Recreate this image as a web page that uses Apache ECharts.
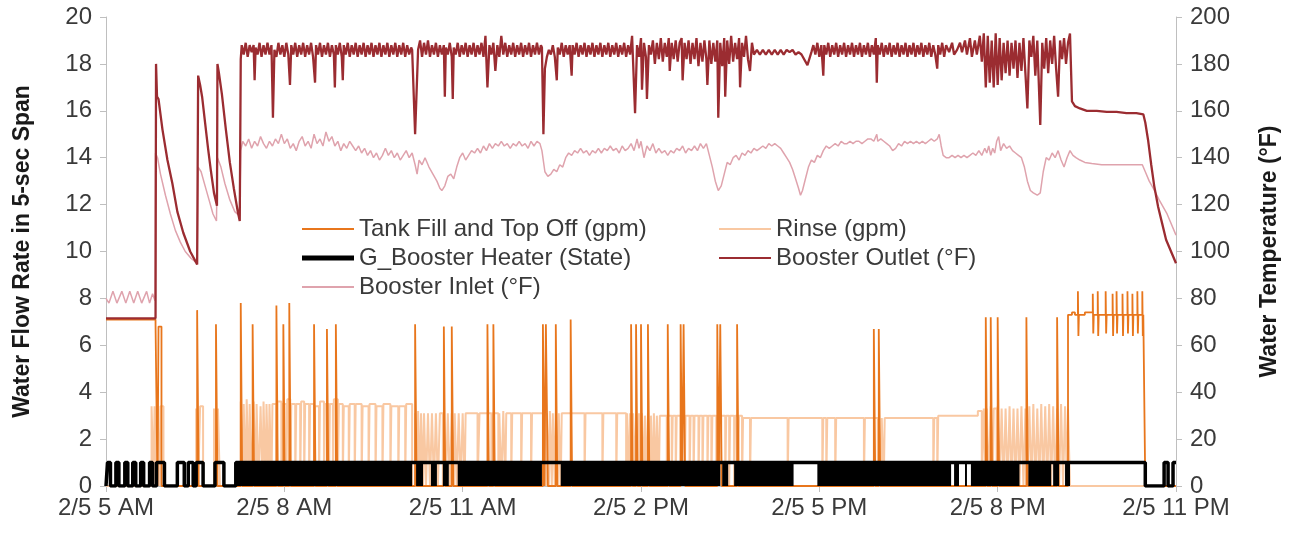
<!DOCTYPE html>
<html>
<head>
<meta charset="utf-8">
<script src="https://cdn.jsdelivr.net/npm/echarts@6/dist/echarts.min.js"></script>
<style>
  html, body { margin: 0; padding: 0; background: #fff; }
  #chart { width: 1296px; height: 537px; }
</style>
</head>
<body>
<div id="chart"></div>
<script>
// time is in minutes after 2/5 5 AM
var timeLabels = ['2/5 5 AM', '2/5 8 AM', '2/5 11 AM', '2/5 2 PM', '2/5 5 PM', '2/5 8 PM', '2/5 11 PM'];

// Tank Fill and Top Off (gpm), step values [minute, gpm]
var tankFill = [
  [0, 7.1], [50, 6.9], [52, 0], [53, 6.8], [56, 0],
  [92, 7.5], [93.5, 0], [111, 6.9], [112.5, 0], [136, 7.8], [137.5, 0], [148, 6.9], [149.5, 0],
  [172, 7.7], [173.5, 0], [179, 6.9], [180.5, 0], [185, 7.8], [186.5, 0],
  [210, 6.9], [211.5, 0], [223, 6.7], [224.5, 0], [232, 6.9], [233.5, 0],
  [312, 6.9], [313.5, 0], [341, 6.8], [342.5, 0], [349, 6.8], [350.5, 0],
  [385, 6.9], [386.5, 0], [391, 6.9], [392.5, 0],
  [441, 6.9], [442.5, 0], [444, 6.9], [446, 0], [454, 6.9], [455.5, 0], [469, 7.1], [470.5, 0],
  [530, 6.9], [531.5, 0], [535, 6.9], [536.5, 0], [540, 6.9], [541.5, 0], [547, 6.9], [548.5, 0],
  [567, 6.9], [568.5, 0], [580, 6.9], [581.5, 0], [583, 6.9], [584.5, 0],
  [617, 6.9], [618.5, 0], [620, 6.9], [621.5, 0], [637, 6.9], [638.5, 0],
  [775, 6.7], [776.5, 0], [780, 6.7], [781.5, 0],
  [888, 7.2], [889.5, 0], [893, 7.2], [894.5, 0], [900, 7.2], [901.5, 0],
  [929, 7.2], [930.5, 0], [960, 7.2], [961.5, 0],
  [971, 7.3], [975, 7.4], [978, 7.3],
  [981, 8.3], [981.5, 6.4], [982, 7.3], [988, 7.4],
  [996, 8.2], [996.5, 6.5], [997, 7.3], [1001, 8.3], [1001.5, 6.4], [1002, 7.3],
  [1009, 8.3], [1009.5, 6.5], [1010, 7.3], [1016, 8.2], [1016.5, 6.4], [1017, 7.3],
  [1020, 8.3], [1020.5, 6.5], [1021, 7.3], [1026, 8.2], [1026.5, 6.4], [1027, 7.3],
  [1031, 8.3], [1031.5, 6.5], [1032, 7.3], [1036, 8.2], [1036.5, 6.4], [1037, 7.3],
  [1041, 8.3], [1041.5, 6.5], [1042, 7.3], [1046, 8.3], [1046.5, 6.4], [1047, 7.3],
  [1049, 0], [1080, 0]
];

// Rinse (gpm), step values [minute, gpm]
var rinse = [
  [0, 0], [46, 3.4], [48, 0], [49, 3.4], [51, 0], [52, 3.3], [54, 0], [55, 3.4], [58, 0],
  [91, 3.3], [93, 0], [95, 3.4], [98, 0], [109, 3.3], [111, 0], [113, 3.3], [115, 0],
  [136, 3.6], [138, 0], [139, 3.5], [141, 0], [142, 3.7], [144, 0], [145, 3.5], [147, 0],
  [149, 3.6], [151, 0], [152, 3.5], [154, 0], [156, 3.4], [158, 0], [159, 3.6], [161, 0],
  [162, 3.5], [164, 0], [165, 3.5], [167, 0],
  [168, 3.5], [172, 0], [173, 3.6], [177, 0], [178, 3.5], [182, 0], [183, 3.7], [186, 0],
  [187, 3.5], [191, 0], [192, 3.5], [196, 0], [197, 3.6], [200, 0], [201, 3.5], [205, 0],
  [206, 3.5], [210, 0], [211, 3.4], [215, 0], [216, 3.6], [220, 0], [221, 3.5], [225, 0],
  [226, 3.5], [229, 0], [230, 3.7], [234, 0], [235, 3.5], [239, 0], [240, 3.4], [245, 0],
  [246, 3.5], [251, 0], [252, 3.5], [258, 0], [259, 3.4], [265, 0], [266, 3.5], [272, 0],
  [273, 3.4], [279, 0], [280, 3.5], [287, 0], [288, 3.4], [295, 0], [296, 3.4], [302, 0],
  [303, 3.5], [309, 0],
  [312, 3.1], [314, 0], [315, 3.2], [317, 0], [318, 3.1], [320, 0], [321, 3.1], [323, 0],
  [325, 3.1], [327, 0], [329, 3.1], [331, 0], [333, 3.1], [335, 0], [337, 3.1], [340, 0],
  [341, 3.1], [343, 0], [345, 3.1], [347, 0], [349, 3.1], [351, 0], [352, 3.1], [354, 0],
  [356, 3.1], [358, 0], [360, 3.1], [362, 0], [363, 3.1],
  [375, 0], [377, 3.1], [389, 0], [390, 3.1], [396, 0], [397, 3.1], [399, 0], [401, 3.2],
  [403, 0], [404, 3.1], [409, 0], [410, 3.1], [419, 0], [420, 3.1], [429, 0], [430, 3.1],
  [441, 0], [442, 3.1], [444, 0], [445, 3.1], [447, 0], [448, 3.2], [450, 0], [451, 3.1],
  [453, 0], [454, 3.1], [456, 0], [457, 3.1], [459, 0], [460, 3.1],
  [483, 0], [484, 3.1], [501, 0], [502, 3.1], [515, 0], [516, 3.1], [525, 0], [526, 3.1],
  [528, 0], [529, 3.1], [531, 0], [532, 3.1], [534, 0], [535, 3.1], [537, 0], [538, 3.1],
  [540, 0], [541, 3.1], [543, 0], [544, 3.0], [546, 0], [547, 3.1], [549, 0], [550, 3.0],
  [552, 0], [553, 3.1], [555, 0], [556, 3.0], [558, 0], [559, 3.0],
  [566, 0], [567, 3.0], [571, 0], [572, 3.0], [575, 0], [576, 3.0], [580, 0], [581, 3.0],
  [584, 0], [585, 3.0], [589, 0], [590, 3.0], [593, 0], [594, 3.0], [598, 0], [599, 3.0],
  [602, 0], [603, 3.0], [607, 0], [608, 3.0], [611, 0], [612, 3.0], [616, 0], [617, 3.0],
  [620, 0], [621, 3.0], [625, 0], [626, 3.0], [629, 0], [630, 3.0], [634, 0], [635, 3.0],
  [638, 0], [639, 3.0], [642, 0], [643, 2.9],
  [650, 0], [651, 2.9], [688, 0], [689, 2.9], [723, 0], [724, 2.9], [727, 0], [728, 2.9],
  [736, 0], [737, 2.9], [765, 0], [766, 2.9], [779, 0], [780, 2.9], [782, 0], [783, 2.9],
  [785, 0], [786, 2.9], [835, 0], [836, 2.9], [839, 0], [840, 3.0],
  [880, 3.2], [884, 0], [886, 3.3], [888, 0], [889, 3.3], [891, 0], [893, 3.4], [895, 0],
  [896, 3.3], [899, 0], [900, 3.4], [902, 0], [904, 3.3], [906, 0], [908, 3.3], [910, 0],
  [912, 3.4], [914, 0], [916, 3.3], [918, 0], [920, 3.3], [922, 0], [924, 3.4], [926, 0],
  [928, 3.3], [930, 0], [932, 3.4], [934, 0], [936, 3.5], [938, 0], [940, 3.3], [942, 0],
  [944, 3.5], [946, 0], [948, 3.4], [950, 0], [952, 3.5], [954, 0], [956, 3.4], [958, 0],
  [960, 3.3], [962, 0], [964, 3.5], [966, 0], [968, 3.4], [970, 0], [971, 3.3], [973, 0],
  [1080, 0]
];

// G_Booster Heater (State), step values [minute, state]
var heaterState = [
  [0, 0], [1.5, 1], [4.5, 0], [10, 1], [13, 0], [19, 1], [22, 0], [27, 1], [30, 0],
  [35, 1], [38, 0], [44, 1], [47, 0], [51, 1], [59, 0],
  [72, 1], [79, 0], [83, 1], [88, 0], [91, 1], [98, 0], [110, 1], [119, 0], [131, 1],
  [1049, 0], [1068, 1], [1072, 0], [1077, 1], [1080, 1]
];
// periods where the heater switches on and off faster than the chart resolves [from, to]
var heaterCycling = [
  [131, 309], [313, 320], [328, 334], [340, 346], [355, 440], [459, 620], [622, 628],
  [634, 694], [718, 853], [856, 861], [867, 869], [873, 922], [931, 954], [956, 962], [968, 973]
];

// Booster Outlet (°F) [minute, °F]
var outlet = [
  [0, 71.5], [50, 71.5], [50.5, 180], [51.5, 166], [53, 165], [57, 152], [62, 139], [67, 129],
  [72, 117], [78, 108], [85, 100], [92, 94.5],
  [93, 175], [95, 171], [97, 166], [100, 155], [103, 144], [106, 134], [109, 125], [112, 119.5],
  [112.5, 180], [114, 176], [117, 167], [121, 152], [125, 138], [129, 127], [133, 117], [135, 113],
  [136, 182], [137, 188], [139, 184], [141, 189], [143, 183], [145, 188], [147, 185], [149, 188],
  [150, 173], [151, 187], [153, 184], [155, 189], [157, 183], [159, 188], [161, 184], [163, 189],
  [165, 184], [167, 188], [168.5, 157], [170, 186], [172, 183], [174, 189], [176, 184], [178, 188],
  [180, 183], [182, 189], [184, 184], [185.7, 171], [187, 188], [189, 184], [191, 189], [193, 183],
  [195, 188], [197, 184], [199, 189], [201, 183], [203, 188], [205, 184], [207, 189], [209, 183],
  [211, 172], [212, 188], [214, 184], [216, 189], [218, 183], [220, 188], [222, 184], [224, 189],
  [226, 183], [228, 188], [230, 184], [231, 170], [232, 188], [234, 184], [236, 189], [238, 183],
  [239, 173], [240, 188], [242, 184], [244, 189], [246, 183], [248, 188], [250, 184], [252, 189],
  [254, 183], [256, 188], [258, 184], [260, 189], [262, 183], [264, 188], [266, 184], [268, 189],
  [270, 183], [272, 188], [274, 184], [276, 189], [278, 183], [280, 188], [282, 184], [284, 189],
  [286, 183], [288, 188], [290, 184], [292, 189], [294, 183], [296, 188], [298, 184], [300, 189],
  [302, 183], [304, 188], [306, 184], [308, 187], [309, 186], [312, 150], [315, 186],
  [317, 190], [319, 183], [321, 189], [323, 184], [325, 190], [327, 183], [329, 188], [331, 184],
  [333, 189], [335, 183], [337, 188], [339, 184], [341, 188], [342, 166], [343, 187], [345, 184],
  [347, 189], [349, 183], [350, 165], [351, 187], [353, 184], [355, 189], [357, 183], [359, 188],
  [361, 184], [363, 189], [365, 183], [367, 188], [369, 184], [371, 189], [373, 183], [375, 188],
  [377, 184], [379, 189], [381, 183], [383, 192], [385, 170], [387, 188], [389, 184], [391, 189],
  [393, 177], [395, 188], [397, 183], [399, 192], [401, 184], [403, 189], [405, 183], [407, 188],
  [409, 184], [411, 189], [413, 183], [415, 188], [417, 184], [419, 189], [421, 183], [423, 188],
  [425, 184], [427, 189], [429, 183], [431, 188], [433, 184], [435, 189], [437, 184], [439, 188],
  [440, 187], [441.5, 150], [443, 178], [445, 183], [447, 186], [449, 184], [451, 188], [453, 183],
  [455, 173], [456, 187], [458, 184], [460, 189], [462, 183], [464, 188], [466, 184], [468, 188],
  [470, 175], [471, 188], [473, 184], [475, 189], [477, 183], [479, 188], [481, 184], [483, 189],
  [485, 183], [487, 188], [489, 184], [491, 189], [493, 183], [495, 188], [497, 184], [499, 189],
  [501, 183], [503, 188], [505, 184], [507, 189], [509, 183], [511, 188], [513, 184], [515, 189],
  [517, 183], [519, 188], [521, 184], [523, 189], [525, 183], [527, 188], [529, 184], [531, 192],
  [534, 159], [536, 188], [538, 183], [540, 191], [541, 169], [543, 189], [545, 183], [546, 165],
  [548, 188], [550, 184], [552, 190], [554, 180], [556, 189], [558, 182], [560, 191], [562, 181],
  [564, 189], [566, 183], [568, 191], [569, 177], [571, 189], [573, 182], [575, 190], [577, 181],
  [579, 189], [581, 191], [582, 173], [584, 189], [586, 182], [588, 190], [590, 180], [592, 189],
  [594, 182], [596, 191], [598, 179], [600, 189], [602, 181], [604, 190], [606, 182], [607, 171],
  [609, 190], [611, 180], [613, 189], [615, 181], [617, 190], [618, 157], [620, 189], [622, 179],
  [624, 191], [625, 166], [627, 190], [629, 180], [631, 192], [633, 181], [635, 189], [637, 182],
  [639, 191], [640, 170], [642, 189], [644, 183], [646, 192], [648, 182], [650, 177], [652, 189],
  [654, 184], [657, 186], [660, 184], [663, 186], [666, 184], [669, 186], [672, 184], [675, 186],
  [678, 184], [681, 186], [684, 184], [687, 186], [690, 185], [693, 186], [696, 184], [699, 185],
  [702, 184], [708, 179.5], [712, 185], [714, 188], [716, 184], [718, 189], [720, 183], [722, 188],
  [724, 175], [725, 188], [727, 184], [729, 189], [731, 183], [733, 188], [735, 184], [737, 189],
  [739, 183], [741, 188], [743, 184], [745, 189], [747, 183], [749, 188], [751, 184], [753, 189],
  [755, 183], [757, 188], [759, 184], [761, 189], [763, 183], [765, 188], [767, 184], [769, 189],
  [771, 183], [773, 188], [775, 184], [777, 191], [778, 172], [779, 188], [781, 184], [783, 189],
  [785, 183], [787, 188], [789, 184], [791, 189], [793, 183], [795, 188], [797, 184], [799, 189],
  [801, 183], [803, 188], [805, 184], [807, 189], [809, 183], [811, 188], [813, 184], [815, 189],
  [817, 183], [819, 188], [821, 184], [823, 189], [825, 183], [827, 188], [829, 184], [831, 189],
  [833, 183], [835, 188], [837, 184], [839, 178], [840, 188], [842, 184], [844, 189], [846, 183],
  [848, 188], [851, 185], [854, 189], [856, 184], [859, 186], [862, 189], [864, 185], [867, 190],
  [869, 184], [872, 191], [874, 183], [877, 190], [879, 184], [882, 192], [884, 181],
  [886, 193], [888, 170], [890, 192], [892, 172], [894, 190], [896, 170], [898, 193], [900, 171],
  [902, 191], [904, 173], [906, 189], [908, 176], [910, 190], [912, 175], [914, 189], [916, 178],
  [918, 190], [920, 174], [922, 189], [924, 177], [926, 191], [928, 176], [930, 161], [932, 190],
  [934, 183], [936, 192], [938, 175], [940, 190], [943, 154], [945, 189], [947, 178], [949, 191],
  [951, 176], [953, 190], [955, 180], [957, 192], [959, 178], [961, 166], [963, 190], [965, 182],
  [967, 191], [969, 180], [971, 189], [973, 193], [975, 164], [978, 162], [983, 161], [990, 160],
  [1000, 160], [1010, 159.5], [1020, 159.5], [1030, 159], [1040, 159], [1047, 158.5],
  [1049, 155], [1052, 147], [1055, 137], [1058, 128], [1062, 119], [1066, 112], [1070, 105],
  [1075, 100], [1080, 95]
];

// Booster Inlet (°F) [minute, °F]
var inlet = [
  [0, 80], [3, 78], [7, 83], [11, 78], [16, 83], [20, 78], [24, 83], [28, 78], [32, 83],
  [36, 78], [41, 83], [44, 78], [47, 82], [49.5, 79],
  [50, 142], [52, 140], [55, 133], [60, 124], [65, 116], [70, 109], [75, 104], [80, 100],
  [86, 97], [92, 95],
  [93, 136], [96, 134], [100, 128], [104, 122], [108, 116], [111.5, 113],
  [112.5, 140], [116, 136], [120, 129], [125, 122], [130, 117], [135, 115],
  [136, 143], [138, 147], [141, 145], [144, 148], [147, 144], [150, 147], [153, 145], [156, 149],
  [159, 146], [162, 144], [165, 147], [168, 145], [171, 148], [174, 146], [177, 150], [180, 146],
  [183, 148], [186, 144], [189, 146], [192, 143], [195, 147], [198, 149], [201, 145], [204, 147],
  [207, 144], [210, 150], [213, 146], [216, 148], [219, 145], [222, 151], [225, 147], [228, 149],
  [231, 145], [234, 147], [237, 143], [240, 146], [243, 144], [246, 147], [249, 145],
  [252, 143], [255, 145], [258, 142], [261, 144], [264, 141], [267, 143], [270, 140], [273, 142],
  [276, 139], [279, 141], [282, 144], [285, 141], [288, 143], [291, 140], [294, 142], [297, 139],
  [300, 141], [303, 143], [306, 140], [309, 142],
  [312, 137], [314, 133], [316, 139], [319, 137], [322, 140], [326, 136], [330, 133], [334, 130],
  [337, 127], [339, 126], [342, 128], [345, 132], [348, 133], [351, 131], [354, 136], [357, 140],
  [360, 142], [363, 139], [366, 141], [369, 143], [372, 142], [375, 144], [378, 142], [381, 145],
  [384, 143], [387, 146], [390, 144], [393, 146], [396, 145], [399, 147], [402, 145], [405, 146],
  [408, 144], [411, 146], [414, 145], [417, 147], [420, 145], [423, 146], [426, 144], [429, 147],
  [432, 145], [435, 147], [438, 146], [440, 143], [443, 134], [446, 132], [449, 133], [452, 135],
  [455, 134], [458, 137], [461, 136], [464, 140], [467, 142], [470, 141], [473, 143], [476, 142],
  [479, 144], [482, 142], [485, 143], [488, 141], [491, 143], [494, 142], [497, 144], [500, 142],
  [503, 144], [506, 143], [509, 145], [512, 143], [515, 144], [518, 142], [521, 145], [524, 143],
  [527, 144], [530, 146], [533, 143], [536, 148], [538, 144], [540, 147], [543, 140], [546, 145],
  [549, 143], [552, 146], [555, 142], [558, 144], [561, 142], [564, 143], [567, 141], [570, 143],
  [573, 142], [576, 144], [579, 143], [582, 145], [585, 142], [588, 144], [591, 143], [594, 145],
  [597, 143], [600, 146], [603, 144], [606, 146], [609, 141], [612, 136], [615, 130], [618, 126],
  [621, 128], [624, 133], [627, 138], [630, 137], [633, 140], [636, 141], [639, 139], [642, 142],
  [645, 141], [648, 143], [651, 142], [654, 144], [657, 143], [660, 144], [663, 145], [666, 144],
  [669, 146], [672, 145], [675, 146], [678, 145], [681, 144], [684, 142], [687, 140], [690, 138],
  [693, 135], [696, 131], [699, 127], [701, 124], [703, 126], [706, 131], [709, 136], [712, 139],
  [715, 138], [718, 141], [721, 140], [724, 143], [727, 145], [730, 144], [733, 145], [736, 146],
  [739, 145], [742, 147], [745, 146], [748, 146], [751, 147], [754, 146], [757, 147], [760, 147],
  [763, 146], [766, 147], [769, 148], [772, 148], [775, 147], [778, 150], [779, 147], [782, 148],
  [785, 147], [788, 146], [791, 145], [794, 143], [797, 144], [800, 146], [803, 145], [806, 147],
  [809, 146], [812, 147], [815, 146], [818, 147], [821, 146], [824, 147], [827, 146], [830, 147],
  [833, 148], [836, 147], [839, 148], [841, 150], [843, 145], [845, 141], [848, 140], [851, 140],
  [854, 141], [857, 140], [860, 141], [863, 140], [866, 141], [869, 140], [872, 141], [875, 142],
  [878, 141], [881, 143], [884, 141], [887, 144], [889, 142], [891, 145], [893, 141], [895, 144],
  [897, 142], [899, 147], [901, 149], [903, 143], [906, 146], [909, 144], [912, 145], [915, 143],
  [918, 142], [921, 141], [924, 140], [927, 136], [930, 130], [933, 126], [936, 125], [940, 124],
  [943, 125], [946, 134], [949, 140], [952, 139], [955, 142], [958, 140], [961, 143], [964, 139],
  [967, 136], [970, 140], [973, 143], [976, 141], [979, 140], [983, 139], [988, 138], [995, 137.5],
  [1005, 137], [1015, 137], [1025, 137], [1035, 137], [1046, 137], [1049, 134], [1053, 130],
  [1057, 127], [1063, 122], [1071, 116], [1080, 107]
];

var FONT = 'Liberation Sans';
var labelStyle = { fontFamily: FONT, fontSize: 24, color: '#3a3a3a' };
var axisGray = '#bfbfbf';
// plain line samples for the legend (no symbol dot)
var thinIcon = 'path://M0,0H52V2H0Z';
var thickIcon = 'path://M0,0H52V5H0Z';

var chart = echarts.init(document.getElementById('chart'), null, { renderer: 'canvas' });

var option = {
  animation: false,
  backgroundColor: '#ffffff',
  grid: { left: 106, right: 120, top: 17, bottom: 51 },
  legend: [{
    orient: 'vertical',
    left: 297,
    top: 212,
    itemWidth: 52,
    itemHeight: 14,
    itemGap: 5,
    textStyle: labelStyle,
    data: [
      { name: 'Tank Fill and Top Off (gpm)', icon: thinIcon },
      { name: 'G_Booster Heater (State)', icon: thickIcon },
      { name: 'Booster Inlet (°F)', icon: thinIcon }
    ]
  }, {
    orient: 'vertical',
    left: 714,
    top: 212,
    itemWidth: 52,
    itemHeight: 14,
    itemGap: 5,
    textStyle: labelStyle,
    data: [
      { name: 'Rinse (gpm)', icon: thinIcon },
      { name: 'Booster Outlet (°F)', icon: thinIcon }
    ]
  }],
  xAxis: {
    type: 'value',
    min: 0,
    max: 1080,
    interval: 180,
    axisLine: { lineStyle: { color: axisGray } },
    axisTick: { length: 6, lineStyle: { color: axisGray } },
    splitLine: { show: false },
    axisLabel: Object.assign({
      margin: 10,
      formatter: function (v) { return timeLabels[Math.round(v / 180)] || ''; }
    }, labelStyle)
  },
  yAxis: [{
    type: 'value',
    min: 0,
    max: 20,
    interval: 2,
    name: 'Water Flow Rate in 5-sec Span',
    nameLocation: 'middle',
    nameGap: 72,
    nameTextStyle: { fontFamily: FONT, fontSize: 23, fontWeight: 'bold', color: '#1a1a1a' },
    axisLine: { show: true, lineStyle: { color: axisGray } },
    axisTick: { show: true, length: 6, lineStyle: { color: axisGray } },
    splitLine: { show: false },
    axisLabel: Object.assign({ margin: 14 }, labelStyle)
  }, {
    type: 'value',
    min: 0,
    max: 200,
    interval: 20,
    position: 'right',
    name: 'Water Temperature (°F)',
    nameLocation: 'middle',
    nameGap: 82,
    nameRotate: 90,
    nameTextStyle: { fontFamily: FONT, fontSize: 23, fontWeight: 'bold', color: '#1a1a1a' },
    axisLine: { show: true, lineStyle: { color: axisGray } },
    axisTick: { show: true, length: 6, lineStyle: { color: axisGray } },
    splitLine: { show: false },
    axisLabel: Object.assign({ margin: 14 }, labelStyle)
  }],
  series: [{
    name: 'Rinse (gpm)',
    type: 'line',
    yAxisIndex: 0,
    step: 'end',
    symbol: 'none',
    z: 2,
    itemStyle: { color: '#f9c8a2' },
    lineStyle: { color: '#f9c8a2', width: 2 },
    data: rinse
  }, {
    name: 'Tank Fill and Top Off (gpm)',
    type: 'line',
    yAxisIndex: 0,
    step: 'end',
    symbol: 'none',
    z: 3,
    itemStyle: { color: '#e8761c' },
    lineStyle: { color: '#e8761c', width: 1.8 },
    data: tankFill
  }, {
    name: 'Booster Inlet (°F)',
    type: 'line',
    yAxisIndex: 1,
    symbol: 'none',
    z: 4,
    itemStyle: { color: '#dfa3ad' },
    lineStyle: { color: '#dfa3ad', width: 1.5 },
    data: inlet
  }, {
    name: 'Booster Outlet (°F)',
    type: 'line',
    yAxisIndex: 1,
    symbol: 'none',
    z: 5,
    itemStyle: { color: '#9b2c31' },
    lineStyle: { color: '#9b2c31', width: 2.3 },
    data: outlet
  }, {
    name: 'G_Booster Heater (State)',
    type: 'line',
    yAxisIndex: 0,
    step: 'end',
    symbol: 'none',
    z: 7,
    itemStyle: { color: '#000000' },
    lineStyle: { color: '#000000', width: 3.5 },
    markArea: {
      silent: true,
      z: 6,
      itemStyle: { color: '#000000', opacity: 1 },
      data: heaterCycling.map(function (p) {
        return [{ xAxis: p[0], yAxis: 0 }, { xAxis: p[1], yAxis: 1 }];
      })
    },
    data: heaterState
  }]
};

chart.setOption(option);
</script>
</body>
</html>
